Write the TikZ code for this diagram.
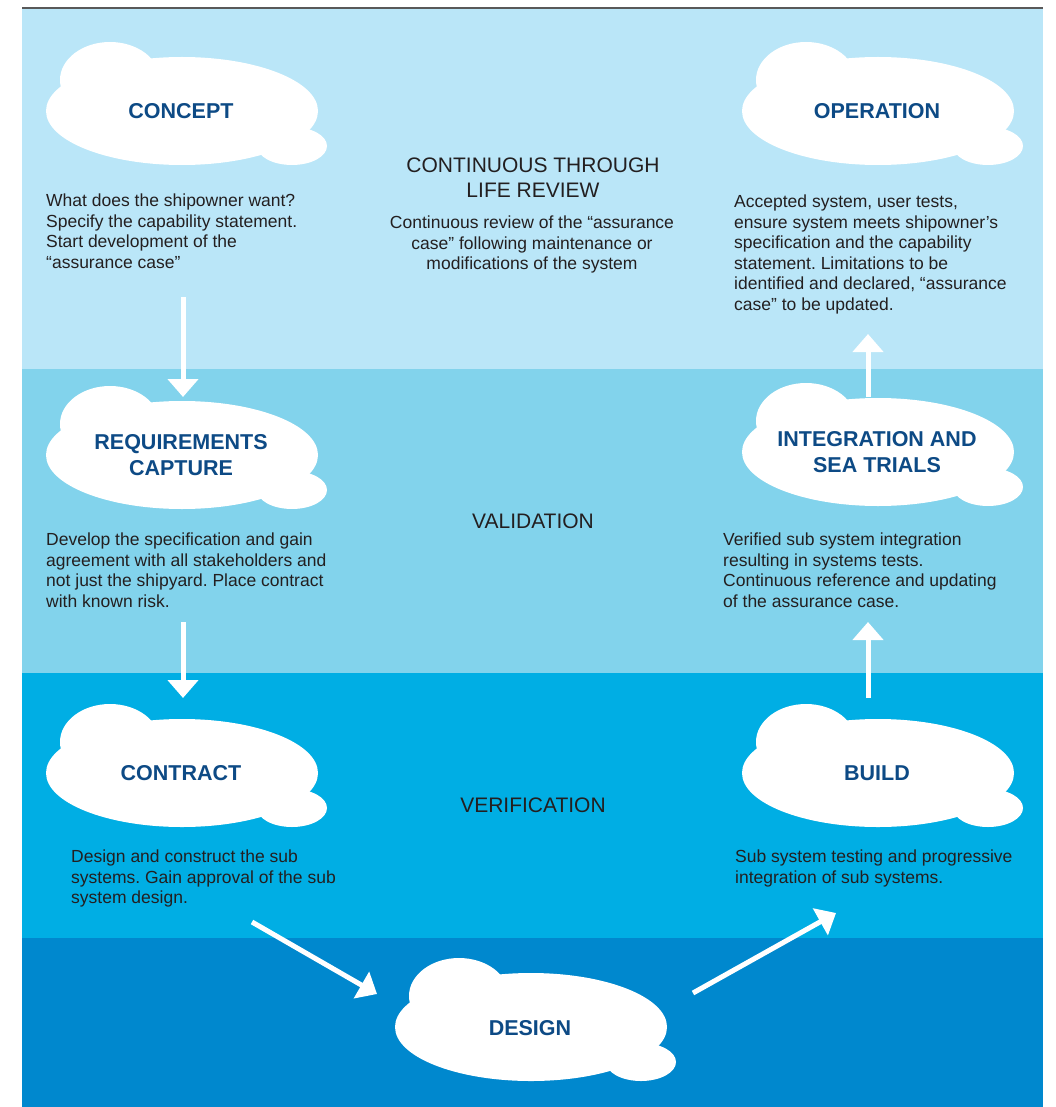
\documentclass[tikz,border=0pt]{standalone}
\usepackage{fontspec}
\setmainfont{Liberation Sans}
\usetikzlibrary{arrows.meta}
\frenchspacing
\definecolor{bandone}{HTML}{BAE6F8}
\definecolor{bandtwo}{HTML}{82D3EC}
\definecolor{bandthree}{HTML}{00AEE4}
\definecolor{bandfour}{HTML}{0088CE}
\definecolor{headblue}{HTML}{0D4A85}
\definecolor{bodygrey}{HTML}{231F20}
\tikzset{
    cloud-shape/.pic = {
        \fill[white] (0,0) ellipse [x radius=136, y radius=54];
        \fill[white] (-72,-31) ellipse [x radius=50, y radius=38];
        \fill[white] (110,35) ellipse [x radius=35, y radius=19];
    },
    cloud-title/.style = {text=headblue, font=\fontsize{21.5}{25.5}\selectfont\bfseries, align=center, inner sep=0pt},
    stage-title/.style = {text=bodygrey, font=\fontsize{21}{25}\selectfont, align=center, inner sep=0pt},
    step-text/.style = {text=bodygrey, font=\fontsize{17.5}{20.5}\selectfont, align=left, inner sep=0pt, anchor=north west},
    flow-arrow/.style = {white, line width=5pt, -{Triangle[width=30pt, length=18pt]}},
}
\begin{document}
\begin{tikzpicture}[x=1pt, y=-1pt]
\useasboundingbox (0,0) rectangle (1055,1107);
\fill[bandone] (22,8) rectangle (1043,369);
\fill[bandtwo] (22,369) rectangle (1043,673);
\fill[bandthree] (22,673) rectangle (1043,938);
\fill[bandfour] (22,938) rectangle (1043,1107);
\draw[black!65, line width=1.3pt] (22,8) -- (1043,8);

\pic at (182,111) {cloud-shape};
\pic at (878,111) {cloud-shape};
\pic at (182,455) {cloud-shape};
\pic at (878,452) {cloud-shape};
\pic at (182,773) {cloud-shape};
\pic at (878,773) {cloud-shape};
\pic at (531,1027) {cloud-shape};

\node[cloud-title] (concept) at (181,111) {CONCEPT};
\node[cloud-title] (operation) at (877,111) {OPERATION};
\node[cloud-title] (requirements) at (181,455) {REQUIREMENTS\\CAPTURE};
\node[cloud-title] (integration) at (877,452) {INTEGRATION AND\\SEA TRIALS};
\node[cloud-title] (contract) at (181,773) {CONTRACT};
\node[cloud-title] (build) at (877,773) {BUILD};
\node[cloud-title] (design) at (530,1028) {DESIGN};

\node[stage-title, anchor=north] (review) at (533,158) {CONTINUOUS THROUGH\\LIFE REVIEW};
\node[step-text, anchor=north, align=center] (review-text) at (532,216) {Continuous review of the “assurance\\case” following maintenance or\\modifications of the system};
\node[stage-title] (validation) at (533,521) {VALIDATION};
\node[stage-title] (verification) at (533,805) {VERIFICATION};

\node[step-text] (concept-text) at (46,194) {What does the shipowner want?\\Specify the capability statement.\\Start development of the\\“assurance case”};
\node[step-text] (operation-text) at (734,195) {Accepted system, user tests,\\ensure system meets shipowner’s\\specification and the capability\\statement. Limitations to be\\identified and declared, “assurance\\case” to be updated.};
\node[step-text] (requirements-text) at (46,533) {Develop the specification and gain\\agreement with all stakeholders and\\not just the shipyard. Place contract\\with known risk.};
\node[step-text] (integration-text) at (723,533) {Verified sub system integration\\resulting in systems tests.\\Continuous reference and updating\\of the assurance case.};
\node[step-text] (contract-text) at (71,850) {Design and construct the sub\\systems. Gain approval of the sub\\system design.};
\node[step-text] (build-text) at (735,850) {Sub system testing and progressive\\integration of sub systems.};

\coordinate (down-one-a) at (183,297);
\coordinate (down-one-b) at (183,397);
\coordinate (down-two-a) at (183,622);
\coordinate (down-two-b) at (183,698);
\coordinate (up-one-a) at (868,698);
\coordinate (up-one-b) at (868,622);
\coordinate (up-two-a) at (868,397);
\coordinate (up-two-b) at (868,334);
\coordinate (slope-down-a) at (252,922);
\coordinate (slope-down-b) at (377,994);
\coordinate (slope-up-a) at (693,993);
\coordinate (slope-up-b) at (836,913);

\draw[flow-arrow] (down-one-a) -- (down-one-b);
\draw[flow-arrow] (down-two-a) -- (down-two-b);
\draw[flow-arrow] (slope-down-a) -- (slope-down-b);
\draw[flow-arrow] (slope-up-a) -- (slope-up-b);
\draw[flow-arrow] (up-one-a) -- (up-one-b);
\draw[flow-arrow] (up-two-a) -- (up-two-b);
\end{tikzpicture}
\end{document}
